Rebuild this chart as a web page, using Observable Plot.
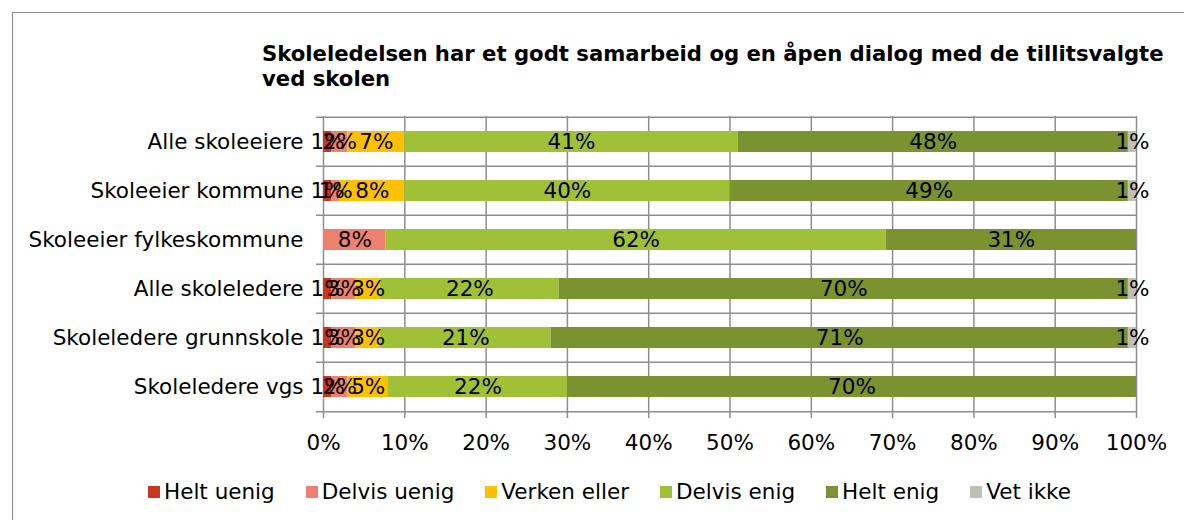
<!DOCTYPE html>
<html>
<head>
<meta charset="utf-8">
<script src="https://cdn.jsdelivr.net/npm/d3@7"></script>
<script src="https://cdn.jsdelivr.net/npm/@observablehq/plot@0.6"></script>
<style>
  html, body { margin: 0; padding: 0; background: #fff; width: 1184px; height: 520px; overflow: hidden; }
  #frame { position: absolute; left: 12px; top: 12px; width: 1300px; height: 600px; border: 1.5px solid #8a8a8a; box-sizing: border-box; }
  #title { position: absolute; left: 262px; top: 41px; font-family: "DejaVu Sans", Verdana, sans-serif; font-weight: bold; font-size: 21.2px; line-height: 25px; white-space: nowrap; color: #000; }
  #chart { position: absolute; left: 0; top: 0; }
  #legend { position: absolute; left: 148px; top: 479px; display: flex; align-items: center; font-family: "DejaVu Sans", Verdana, sans-serif; font-size: 21.5px; color: #000; white-space: nowrap; }
  .item { display: flex; align-items: center; margin-right: 31px; }
  .sw { width: 12px; height: 12px; margin-right: 4px; }
</style>
</head>
<body>
<div id="frame"></div>
<div id="chart"></div>
<div id="title">Skoleledelsen har et godt samarbeid og en åpen dialog med de tillitsvalgte<br>ved skolen</div>
<div id="legend"></div>
<script>
const categories = ["Alle skoleeiere", "Skoleeier kommune", "Skoleeier fylkeskommune", "Alle skoleledere", "Skoleledere grunnskole", "Skoleledere vgs"];
const answers = ["Helt uenig", "Delvis uenig", "Verken eller", "Delvis enig", "Helt enig", "Vet ikke"];
const colors = ["#C9381E", "#EE8070", "#FFC000", "#A0C038", "#7A9330", "#BFBFB8"];
const heltUenig   = [1, 1, 0, 1, 1, 1];
const delvisUenig = [2, 1, 7.7, 3, 3, 2];
const verken      = [7, 8, 0, 3, 3, 5];
const delvisEnig  = [41, 40, 61.5, 22, 21, 22];
const heltEnig    = [48, 49, 30.8, 70, 71, 70];
const vetIkke     = [1, 1, 0, 1, 1, 0];
const xTicks = [0, 10, 20, 30, 40, 50, 60, 70, 80, 90, 100];

const series = [heltUenig, delvisUenig, verken, delvisEnig, heltEnig, vetIkke];
const data = [];
categories.forEach((c, i) => {
  answers.forEach((a, j) => {
    data.push({category: c, answer: a, value: series[j][i]});
  });
});

const marginTop = 116, marginBottom = 48, height = 460;
const bw = (height - marginTop - marginBottom) / categories.length;
const gridColor = "#8e8e8e";
const fs = 21.5;

const chart = Plot.plot({
  width: 1184,
  height,
  marginTop,
  marginBottom,
  marginLeft: 323,
  marginRight: 48,
  style: {fontFamily: "DejaVu Sans, Verdana, sans-serif", fontSize: fs + "px", background: "transparent", color: "#000"},
  x: {domain: [0, 100], label: null},
  y: {domain: categories, padding: 0, label: null},
  color: {domain: answers, range: colors},
  marks: [
    Plot.ruleX(xTicks, {x: d => d, stroke: gridColor, strokeWidth: 1.5, insetBottom: -6}),
    Plot.ruleY(categories, {y: d => d, dy: -bw / 2, stroke: gridColor, strokeWidth: 1.5, insetLeft: -7}),
    Plot.ruleY([categories[categories.length - 1]], {y: d => d, dy: bw / 2, stroke: gridColor, strokeWidth: 1.5, insetLeft: -7}),
    Plot.barX(data, Plot.stackX({x: "value", y: "category", fill: "answer", order: answers, insetTop: 14, insetBottom: 14})),
    Plot.text(data, Plot.stackX({x: "value", y: "category", z: "answer", order: answers, filter: d => d.value > 0, text: d => Math.round(d.value) + "%", fill: "#000", fontSize: fs})),
    Plot.axisX(xTicks, {tickSize: 0, tickPadding: 22, tickFormat: d => d + "%", fontSize: fs, label: null}),
    Plot.axisY(categories, {tickSize: 0, tickPadding: 20, fontSize: fs, label: null})
  ]
});
document.getElementById("chart").appendChild(chart);

const legend = document.getElementById("legend");
answers.forEach((a, i) => {
  const item = document.createElement("div");
  item.className = "item";
  const sw = document.createElement("div");
  sw.className = "sw";
  sw.style.background = colors[i];
  const t = document.createElement("span");
  t.textContent = a;
  item.appendChild(sw);
  item.appendChild(t);
  legend.appendChild(item);
});
</script>
</body>
</html>
